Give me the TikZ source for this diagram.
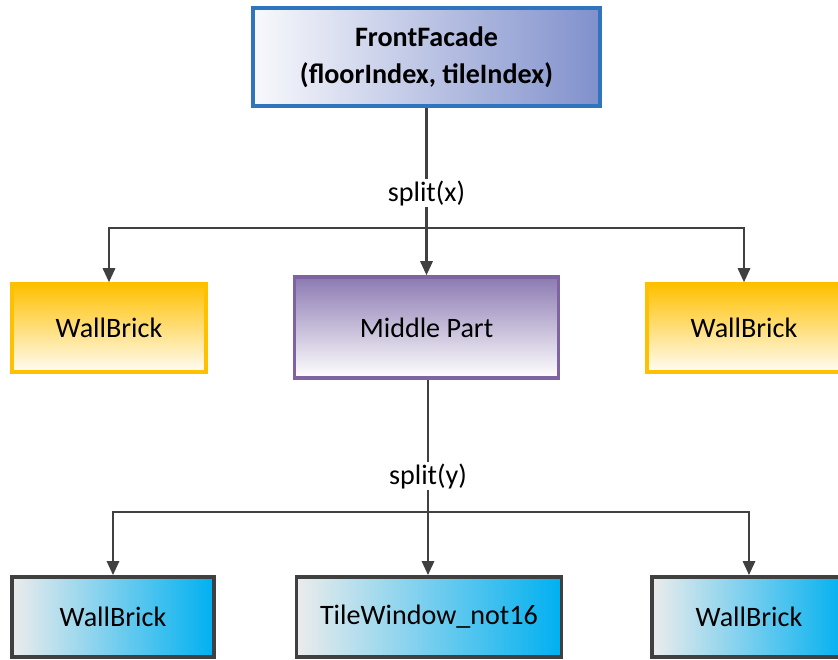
\documentclass[tikz,border=0pt]{standalone}
\usepackage{fontspec}
\setmainfont{Carlito}
\usetikzlibrary{arrows.meta,positioning,calc}

\definecolor{rootline}{HTML}{2F74BC}
\definecolor{rootdark}{HTML}{8090CC}
\definecolor{brickline}{HTML}{FFC000}
\definecolor{midline}{HTML}{8064A2}
\definecolor{midtop}{HTML}{8C7AB2}
\definecolor{tileline}{HTML}{404040}
\definecolor{tileblue}{HTML}{00B0F0}
\definecolor{connector}{HTML}{404040}

\begin{document}
\begin{tikzpicture}[
    x=0.02cm, y=-0.02cm,
    every node/.style={font=\fontsize{16}{19}\selectfont},
    % Root box: blue frame, shaded to the right
    rootbox/.style={rectangle, draw=rootline, line width=2pt,
        left color=white!95!rootdark, right color=rootdark,
        minimum width=6.94cm, minimum height=1.96cm, align=center,
        font=\fontsize{16}{21}\selectfont\bfseries},
    % Golden brick boxes
    brickbox/.style={rectangle, draw=brickline, line width=2pt,
        top color=brickline, bottom color=brickline!4,
        minimum width=3.88cm, minimum height=1.76cm},
    % Purple middle box
    midbox/.style={rectangle, draw=midline, line width=2pt,
        top color=midtop, bottom color=white,
        minimum width=5.28cm, minimum height=2.02cm},
    % Blue tile boxes (bottom row)
    tilebox/.style={rectangle, draw=tileline, line width=2.2pt,
        left color=white!90!tileline, right color=tileblue,
        minimum height=1.6cm},
    % Connectors
    arr/.style={-{Triangle[length=8pt, width=7pt]}, draw=connector, line width=1.3pt},
    line/.style={draw=connector, line width=1.3pt},
    % Split labels
    splitlabel/.style={fill=white, inner sep=1pt},
]
\useasboundingbox (0,0) rectangle (838,659);

% ============================================================
% Row 1: facade
% ============================================================
\node[rootbox] (facade) at (426.5,57) {FrontFacade\\(floorIndex, tileIndex)};

% ============================================================
% Row 2: split(x)
% ============================================================
\node[brickbox] (brickL) at (109,328) {WallBrick};
\node[midbox] (middle) at (426.5,327.5) {Middle Part};
\node[brickbox] (brickR) at (744,328) {WallBrick};

% ============================================================
% Row 3: split(y)
% ============================================================
\node[tilebox, minimum width=4.04cm] (brickBL) at (113,617) {WallBrick};
\node[tilebox, minimum width=5.3cm] (window) at (429,617) {TileWindow\_not16};
\node[tilebox, minimum width=3.88cm] (brickBR) at (749,617) {WallBrick};

% Edges split(x)
\coordinate (splitx) at (426.5,228);
\draw[arr] (facade) -- (middle);
\draw[arr] (splitx) -| (brickL);
\draw[arr] (splitx) -| (brickR);
\node[splitlabel] (labx) at (426.5,193) {split(x)};

% Edges split(y)
\coordinate (splity) at (428,512);
\draw[line] (middle.south -| splity) -- (splity);
\draw[arr] (splity) -- (splity |- window.north);
\draw[arr] (splity) -| (brickBL);
\draw[arr] (splity) -| (brickBR);
\node[splitlabel] (laby) at (428,476) {split(y)};

\end{tikzpicture}
\end{document}
